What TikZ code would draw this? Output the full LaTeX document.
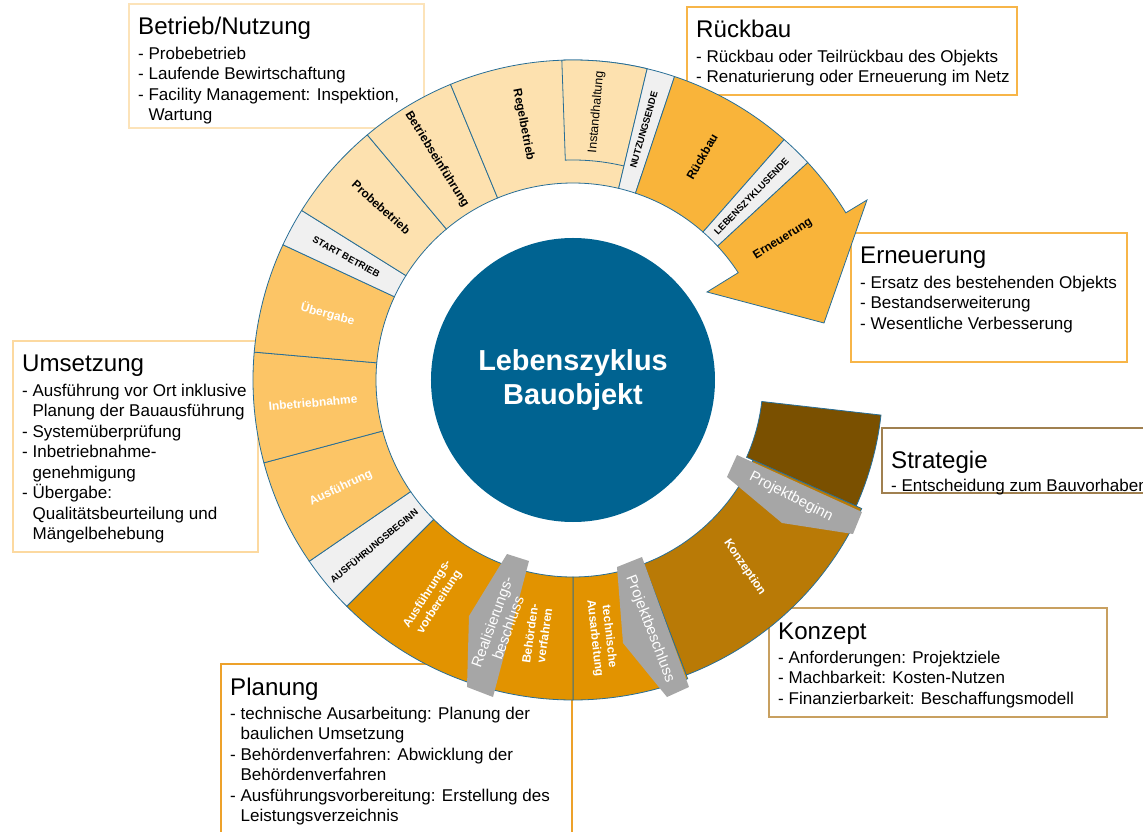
\documentclass[tikz,border=0pt]{standalone}
\usepackage{fontspec}
\setmainfont{Liberation Sans}

\definecolor{lzblue}{RGB}{0,99,145}
\definecolor{lzline}{RGB}{40,110,150}
\definecolor{betrieb}{RGB}{253,225,175}
\definecolor{umsetzung}{RGB}{252,197,102}
\definecolor{rueckbau}{RGB}{249,180,58}
\definecolor{planung}{RGB}{226,147,0}
\definecolor{konzept}{RGB}{185,122,6}
\definecolor{strategie}{RGB}{122,80,0}
\definecolor{meilenstein}{RGB}{240,240,240}
\definecolor{beschluss}{RGB}{166,166,166}
\definecolor{rahmenbetrieb}{RGB}{252,227,185}
\definecolor{rahmenrueck}{RGB}{247,181,72}
\definecolor{rahmenumsetz}{RGB}{252,217,160}
\definecolor{rahmenplan}{RGB}{237,161,42}
\definecolor{rahmenkonz}{RGB}{200,160,96}
\definecolor{rahmenstrat}{RGB}{160,128,80}

\tikzset{
  seg/.style={fill=#1, draw=lzline, line width=0.8bp},
  seglabel/.style={font=\bfseries\fontsize{12}{14.5}\selectfont, align=center, inner sep=0},
  mslabel/.style={font=\bfseries\fontsize{9.5}{11}\selectfont, inner sep=0},
  bslabel/.style={text=white, font=\fontsize{15}{17}\selectfont, align=center, inner sep=0},
  rahmen/.style={draw=#1, line width=1.3bp, fill=white},
  titel/.style={anchor=base west, inner sep=0, font=\fontsize{24.2}{28}\selectfont},
  liste/.style={anchor=north west, inner sep=0, align=left, font=\fontsize{17.1}{20.5}\selectfont},
  kreis/.style={circle, fill=lzblue, minimum size=284bp, text=white, align=center,
    font=\bfseries\fontsize{29}{35}\selectfont}
}

% Ringsegment: Farbe, Startwinkel, Endwinkel, innerer und aeusserer Radius
\newcommand{\ringseg}[5]{%
  \draw[seg=#1] (#2:#4) arc[start angle=#2, end angle=#3, radius=#4]
    -- (#3:#5) arc[start angle=#3, end angle=#2, radius=#5] -- cycle;}
\newcommand{\einr}{\hphantom{- }}

\begin{document}
\begin{tikzpicture}[x=1bp,y=1bp]
\useasboundingbox (-573,-452) rectangle (570,380);

% Textfelder (Rahmen)
\draw[rahmen=rahmenbetrieb] (-444,376) rectangle (-149,252);
\draw[rahmen=rahmenrueck] (114,373) rectangle (444,285);
\draw[rahmen=rahmenrueck] (278,147) rectangle (554,18);
\draw[rahmen=rahmenumsetz] (-560,39) rectangle (-315,-172);
\draw[rahmen=rahmenplan] (-352,-284) rectangle (-1,-470);
\draw[rahmen=rahmenkonz] (196,-228) rectangle (534,-337);
\draw[rahmen=rahmenstrat] (309,-48) rectangle (590,-113);

% Ring
\ringseg{strategie}{-6.5}{-24}{190}{310}
\ringseg{konzept}{-24}{-69}{197}{316}
\ringseg{planung}{-69}{-90}{197}{320}
\ringseg{planung}{-90}{-107}{197}{320}
\ringseg{planung}{-107}{-135}{197}{320}
\ringseg{meilenstein}{-135}{-145.5}{197}{320}
\ringseg{umsetzung}{-145.5}{-165}{197}{320}
\ringseg{umsetzung}{-165}{-185}{197}{320}
\ringseg{umsetzung}{175}{155}{197}{320}
\ringseg{meilenstein}{155}{148}{197}{320}
\ringseg{betrieb}{148}{130}{197}{320}
\ringseg{betrieb}{130}{112.5}{197}{320}
\ringseg{betrieb}{112.5}{76.6}{197}{320}
\ringseg{betrieb}{92}{76.6}{220}{320}
\ringseg{meilenstein}{76.6}{71.5}{197}{320}
\ringseg{rueckbau}{71.5}{48.7}{197}{320}
\ringseg{meilenstein}{48.7}{42.8}{197}{320}
\draw[seg=rueckbau] (42.8:197) -- (42.8:320) arc[start angle=42.8, end angle=31.5, radius=320]
  -- (294,180) -- (251,57) -- (134,88) -- (33:197) arc[start angle=33, end angle=42.8, radius=197] -- cycle;

% Beschluesse
\fill[beschluss] (164,-75) -- (289,-132) -- (280,-154) -- (209,-143) -- (154,-97) -- cycle;
\fill[beschluss] (44,-187) -- (69,-177) -- (116,-307) -- (94,-317) -- (50,-263) -- cycle;
\fill[beschluss] (-66,-174) -- (-44,-181) -- (-80,-317) -- (-106,-307) -- (-104,-236) -- cycle;

% Mitte
\node[kreis] (mitte) at (0,0) {Lebenszyklus\\Bauobjekt};

% Beschriftung Ring
\node[seglabel, rotate=-42] (probebetrieb) at (138:258) {Probebetrieb};
\node[seglabel, rotate=-58] (betriebseinf) at (121.7:259) {Betriebseinführung};
\node[seglabel, rotate=-79] (regelbetrieb) at (101:260) {Regelbetrieb};
\node[seglabel, font=\fontsize{12.5}{15}\selectfont, rotate=85] (instandhaltung) at (85:269) {Instandhaltung};
\node[mslabel, rotate=74] (nutzungsende) at (74.2:260) {NUTZUNGSENDE};
\node[seglabel, rotate=60] (rueckbau) at (60:258) {Rückbau};
\node[mslabel, rotate=46] (lebensende) at (45.8:256) {LEBENSZYKLUSENDE};
\node[seglabel, rotate=32] (erneuerung) at (33.9:253) {Erneuerung};
\node[mslabel, rotate=-29] (startbetrieb) at (151.5:258) {START BETRIEB};
\node[seglabel, text=white, rotate=-15] (uebergabe) at (165:254) {Übergabe};
\node[seglabel, text=white, rotate=5] (inbetriebnahme) at (-175:261) {Inbetriebnahme};
\node[seglabel, text=white, rotate=25] (ausfuehrung) at (-155:256) {Ausführung};
\node[mslabel, rotate=39.5] (ausfbeginn) at (-140.3:259) {AUSFÜHRUNGSBEGINN};
\node[seglabel, text=white, rotate=57.5] (ausfvorb) at (-122.6:259) {Ausführungs-\\vorbereitung};
\node[seglabel, text=white, rotate=82] (behoerden) at (-98:257) {Behörden-\\verfahren};
\node[seglabel, text=white, rotate=-83.6] (technisch) at (-83.6:259) {technische\\Ausarbeitung};
\node[seglabel, text=white, rotate=-56] (konzeption) at (-47.5:254) {Konzeption};
\node[bslabel, rotate=70] (realisierung) at (-73,-245) {Realisierungs-\\beschluss};
\node[bslabel, rotate=-69] (projektbeschluss) at (77,-249) {Projektbeschluss};
\node[bslabel, rotate=-27] (projektbeginn) at (218,-117) {Projektbeginn};

% Textfelder (Inhalt)
\node[titel] (betriebtitel) at (-435,345) {Betrieb/Nutzung};
\node[liste] (betriebliste) at (-435,333) {- Probebetrieb\\- Laufende Bewirtschaftung\\- Facility Management: Inspektion,\\\einr Wartung};
\node[titel] (rueckbautitel) at (123,342) {Rückbau};
\node[liste] (rueckbauliste) at (123,330) {- Rückbau oder Teilrückbau des Objekts\\- Renaturierung oder Erneuerung im Netz};
\node[titel] (erneuerungtitel) at (287,116) {Erneuerung};
\node[liste] (erneuerungliste) at (287,104) {- Ersatz des bestehenden Objekts\\- Bestandserweiterung\\- Wesentliche Verbesserung};
\node[titel] (umsetzungtitel) at (-551,8) {Umsetzung};
\node[liste] (umsetzungliste) at (-551,-4) {- Ausführung vor Ort inklusive\\\einr Planung der Bauausführung\\- Systemüberprüfung\\- Inbetriebnahme-\\\einr genehmigung\\- Übergabe:\\\einr Qualitätsbeurteilung und\\\einr Mängelbehebung};
\node[titel] (planungtitel) at (-343,-315) {Planung};
\node[liste] (planungliste) at (-343,-327) {- technische Ausarbeitung: Planung der\\\einr baulichen Umsetzung\\- Behördenverfahren: Abwicklung der\\\einr Behördenverfahren\\- Ausführungsvorbereitung: Erstellung des\\\einr Leistungsverzeichnis};
\node[titel] (konzepttitel) at (205,-259) {Konzept};
\node[liste] (konzeptliste) at (205,-271) {- Anforderungen: Projektziele\\- Machbarkeit: Kosten-Nutzen\\- Finanzierbarkeit: Beschaffungsmodell};
\node[titel] (strategietitel) at (318,-88) {Strategie};
\node[liste] (strategieliste) at (318,-99) {- Entscheidung zum Bauvorhaben};
\end{tikzpicture}
\end{document}
